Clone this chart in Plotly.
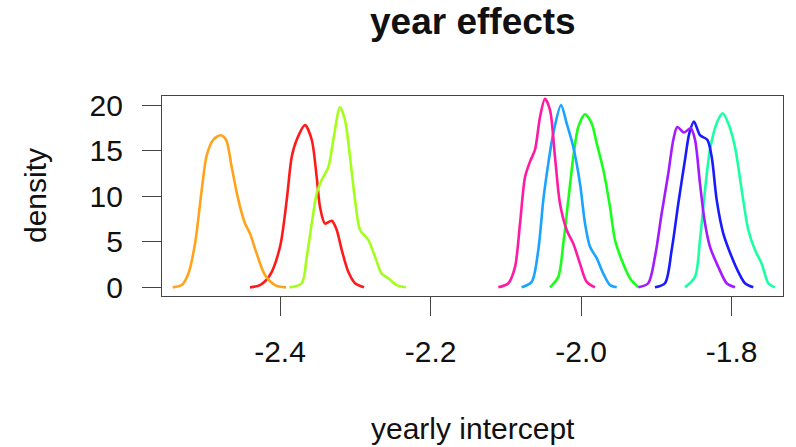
import plotly.graph_objects as go

# ---- data (x = yearly intercept, y = density) ----
orange_x = [-2.5425, -2.5306, -2.5218, -2.5129, -2.504, -2.4974, -2.4886, -2.4788, -2.4717, -2.4642, -2.4554, -2.4465, -2.4399, -2.431, -2.42, -2.4066, -2.392]
orange_y = [0, 0.25, 1.5, 4.8, 10.7, 14.5, 16.2, 16.7, 16.2, 13.2, 9.6, 7.0, 5.9, 3.7, 1.35, 0.25, 0]

red_x = [-2.4399, -2.4266, -2.4133, -2.4, -2.3911, -2.3845, -2.3778, -2.3668, -2.3579, -2.3513, -2.3469, -2.3402, -2.3313, -2.3247, -2.318, -2.3093, -2.3004, -2.2884]
red_y = [0, 0.25, 1.35, 4.45, 9.6, 14.3, 16.2, 17.8, 16.2, 12.1, 8.85, 7.0, 7.3, 6.3, 4.1, 1.7, 0.45, 0]

chart_x = [-2.3876, -2.3712, -2.3645, -2.3579, -2.3513, -2.3446, -2.3358, -2.3292, -2.3203, -2.3137, -2.307, -2.3004, -2.2937, -2.2827, -2.2738, -2.2649, -2.2561, -2.245, -2.2326]
chart_y = [0, 0.45, 3.35, 7.0, 10.3, 11.8, 13.2, 16.2, 19.75, 18.35, 14.3, 9.6, 6.3, 5.2, 3.35, 1.5, 1.0, 0.25, 0]

pink_x = [-2.11, -2.0967, -2.0878, -2.0812, -2.0745, -2.0679, -2.0613, -2.0546, -2.048, -2.0413, -2.0347, -2.0281, -2.0192, -2.0104, -2.0015, -1.9926, -1.9816]
pink_y = [0, 0.45, 2.25, 7.0, 12.1, 13.8, 15.1, 18.7, 20.7, 19.45, 14.3, 9.2, 6.3, 4.8, 2.6, 0.6, 0]

sky_x = [-2.079, -2.0657, -2.0569, -2.0502, -2.0436, -2.037, -2.0267, -2.0192, -2.0104, -2.0015, -1.9948, -1.9882, -1.9793, -1.9705, -1.9617, -1.9527]
sky_y = [0, 0.6, 4.1, 9.6, 13.6, 16.9, 20.0, 18.0, 15.4, 11.4, 7.0, 4.45, 3.2, 1.5, 0.25, 0]

green_x = [-2.0413, -2.0303, -2.0237, -2.017, -2.0104, -2.0038, -1.9948, -1.986, -1.9793, -1.9705, -1.9617, -1.955, -1.9461, -1.9351, -1.924]
green_y = [0, 1.15, 4.8, 9.6, 14.3, 17.6, 19.0, 18.0, 15.8, 12.9, 8.85, 5.2, 3.0, 1.0, 0]

purple_x = [-1.924, -1.9108, -1.9019, -1.893, -1.8842, -1.8775, -1.8722, -1.8633, -1.8544, -1.8487, -1.8421, -1.8354, -1.8288, -1.8178, -1.8066, -1.7956]
purple_y = [0, 0.45, 3.35, 8.1, 12.5, 16.2, 17.6, 17.0, 17.45, 16.2, 11.4, 7.0, 4.45, 2.25, 0.45, 0]

blue_x = [-1.9019, -1.8886, -1.8797, -1.8709, -1.862, -1.8563, -1.8501, -1.8421, -1.8324, -1.8265, -1.8199, -1.8111, -1.8, -1.7912, -1.7823, -1.7713]
blue_y = [0, 0.45, 4.1, 9.2, 14.0, 16.9, 18.2, 16.7, 16.2, 14.3, 9.6, 5.9, 3.35, 1.7, 0.45, 0]

spring_x = [-1.862, -1.8487, -1.8421, -1.8354, -1.8288, -1.8199, -1.8119, -1.8045, -1.7956, -1.7867, -1.7779, -1.769, -1.7601, -1.7513, -1.7424]
spring_y = [0, 1.15, 5.2, 10.7, 15.1, 18.0, 19.1, 18.0, 15.4, 10.7, 6.3, 4.1, 2.6, 0.45, 0]

x_ticks = [-2.4, -2.2, -2.0, -1.8]
x_tick_labels = ["-2.4", "-2.2", "-2.0", "-1.8"]
y_ticks = [0, 5, 10, 15, 20]
y_tick_labels = ["0", "5", "10", "15", "20"]

series = [
    (red_x, red_y, "#FF1A1A"),
    (orange_x, orange_y, "#FFA31A"),
    (chart_x, chart_y, "#A3FF1A"),
    (green_x, green_y, "#1AFF1A"),
    (spring_x, spring_y, "#1AFFA3"),
    (sky_x, sky_y, "#1AA3FF"),
    (blue_x, blue_y, "#1A1AFF"),
    (purple_x, purple_y, "#A31AFF"),
    (pink_x, pink_y, "#FF1AA3"),
]

FONT = "Liberation Sans, Arial, Helvetica, sans-serif"

fig = go.Figure()
for xs, ys, col in series:
    fig.add_trace(go.Scatter(
        x=xs, y=ys, mode="lines",
        line=dict(color=col, width=2.6, shape="spline", smoothing=0.8),
        showlegend=False, hoverinfo="skip",
    ))

axis_common = dict(
    showgrid=False, zeroline=False,
    showline=True, mirror=True, linecolor="#444444", linewidth=1.2,
    ticks="outside", ticklen=19, tickwidth=1.2, tickcolor="#444444",
    tickfont=dict(family=FONT, size=30, color="#111111"),
)

fig.update_layout(
    width=796, height=447,
    margin=dict(l=162, r=13, t=96, b=151),
    paper_bgcolor="white", plot_bgcolor="white",
    xaxis=dict(range=[-2.5568, -1.7318], tickvals=x_ticks, ticktext=x_tick_labels,
               ticklabelstandoff=10, **axis_common),
    yaxis=dict(range=[-0.95, 21.0], tickvals=y_ticks, ticktext=y_tick_labels,
               ticklabelstandoff=13, **axis_common),
    annotations=[
        dict(text="<b>year effects</b>", xref="paper", yref="paper", x=0.5, y=1.37,
             showarrow=False, xanchor="center", yanchor="middle",
             font=dict(family=FONT, size=37, color="#111111")),
        dict(text="yearly intercept", xref="paper", yref="paper", x=0.5, y=-0.66,
             showarrow=False, xanchor="center", yanchor="middle",
             font=dict(family=FONT, size=30, color="#111111")),
        dict(text="density", xref="paper", yref="paper", x=-0.2045, y=0.5,
             showarrow=False, xanchor="center", yanchor="middle", textangle=-90,
             font=dict(family=FONT, size=30, color="#111111")),
    ],
)

fig.write_html("out.html")
